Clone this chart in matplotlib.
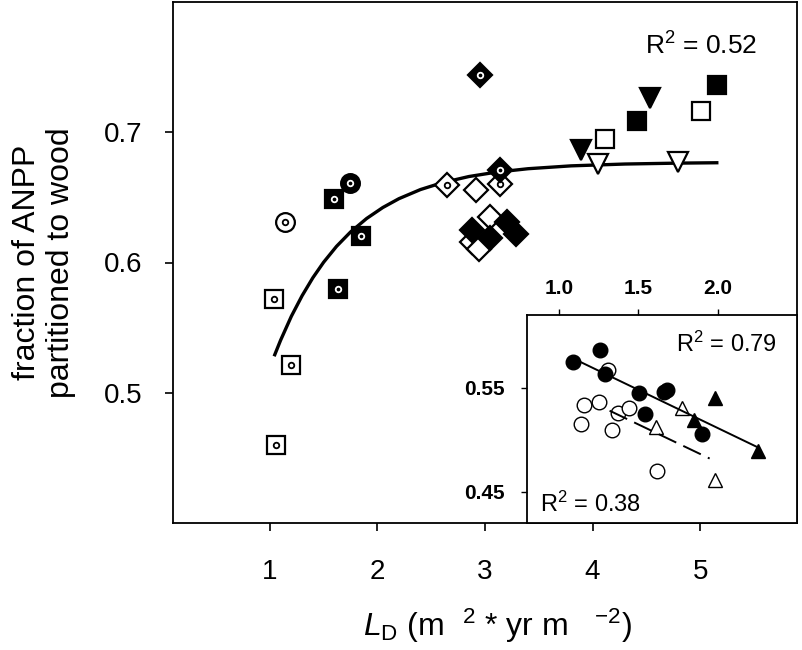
import matplotlib
matplotlib.use("Agg")
import matplotlib.pyplot as plt

plt.rcParams['font.family'] = ['Liberation Sans', 'DejaVu Sans']
plt.rcParams['mathtext.fontset'] = 'custom'
plt.rcParams['mathtext.rm'] = 'Liberation Sans'
plt.rcParams['mathtext.it'] = 'Liberation Sans:italic'
plt.rcParams['mathtext.bf'] = 'Liberation Sans:bold'

# ---- main panel data ----
sq_dot_open_x = [1.04, 1.20, 1.055]
sq_dot_open_y = [0.572, 0.521, 0.460]
sq_dot_filled_x = [1.60, 1.85, 1.63]
sq_dot_filled_y = [0.649, 0.620, 0.580]
circ_dot_open_x = [1.14]
circ_dot_open_y = [0.631]
circ_dot_filled_x = [1.745]
circ_dot_filled_y = [0.661]
diam_dot_open_x = [2.645, 3.14]
diam_dot_open_y = [0.6595, 0.660]
diam_dot_filled_x = [2.95, 3.14]
diam_dot_filled_y = [0.744, 0.671]
diam_open_x = [2.92, 3.05, 2.875, 2.94]
diam_open_y = [0.656, 0.635, 0.616, 0.610]
diam_filled_x = [2.875, 3.20, 3.29, 3.045]
diam_filled_y = [0.625, 0.631, 0.622, 0.619]
sq_open_x = [5.01, 4.12]
sq_open_y = [0.716, 0.695]
sq_filled_x = [5.16, 4.415]
sq_filled_y = [0.736, 0.709]
tri_open_x = [4.05, 4.79]
tri_open_y = [0.676, 0.677]
tri_filled_x = [4.53, 3.89]
tri_filled_y = [0.726, 0.686]

# saturating fit curve
curve_x = [1.04, 1.10, 1.20, 1.30, 1.40, 1.50, 1.62, 1.75, 1.90, 2.05, 2.20, 2.40,
           2.60, 2.85, 3.10, 3.40, 3.80, 4.30, 4.80, 5.17]
curve_y = [0.528, 0.5403, 0.5587, 0.5745, 0.5883, 0.6002, 0.6124, 0.6234, 0.6338,
           0.6422, 0.6490, 0.6560, 0.6612, 0.6660, 0.6693, 0.6720, 0.6742, 0.6756,
           0.6763, 0.6766]

# ---- inset data ----
in_circ_filled_x = [1.09, 1.257, 1.29, 1.505, 1.665, 1.68, 1.543, 1.90]
in_circ_filled_y = [0.575, 0.586, 0.563, 0.545, 0.546, 0.548, 0.525, 0.506]
in_circ_open_x = [1.31, 1.158, 1.253, 1.375, 1.442, 1.137, 1.333, 1.621]
in_circ_open_y = [0.567, 0.533, 0.536, 0.526, 0.531, 0.515, 0.509, 0.470]
in_tri_filled_x = [1.985, 1.853, 2.253]
in_tri_filled_y = [0.540, 0.519, 0.489]
in_tri_open_x = [1.779, 1.611, 1.985]
in_tri_open_y = [0.531, 0.512, 0.461]
fit_solid_x = [1.08, 2.25]
fit_solid_y = [0.579, 0.493]
fit_dash_x = [1.32, 1.95]
fit_dash_y = [0.528, 0.482]

fig = plt.figure(figsize=(8.03, 6.5), dpi=100)
ax = fig.add_axes([173 / 803, 127 / 650, 624 / 803, 521 / 650])

ax.plot(curve_x, curve_y, color='black', lw=2.4, zorder=2, solid_capstyle='butt')


def pts(a, x, y, marker, face, ms, dot=False, z=3):
    a.plot(x, y, ls='none', marker=marker, ms=ms, mfc=face, mec='black', mew=1.6, zorder=z)
    if dot:
        inner = 'white' if face == 'black' else 'black'
        a.plot(x, y, ls='none', marker='o', ms=4, mfc=face, mec=inner, mew=1.3, zorder=z + 0.1)


pts(ax, sq_dot_open_x, sq_dot_open_y, 's', 'white', 12.5, dot=True)
pts(ax, sq_dot_filled_x, sq_dot_filled_y, 's', 'black', 12.5, dot=True)
pts(ax, circ_dot_open_x, circ_dot_open_y, 'o', 'white', 13.5, dot=True)
pts(ax, circ_dot_filled_x, circ_dot_filled_y, 'o', 'black', 13.5, dot=True)
pts(ax, diam_open_x, diam_open_y, 'D', 'white', 12.5)
pts(ax, diam_filled_x, diam_filled_y, 'D', 'black', 12.5, z=3.5)
pts(ax, diam_dot_open_x, diam_dot_open_y, 'D', 'white', 12.5, dot=True)
pts(ax, diam_dot_filled_x, diam_dot_filled_y, 'D', 'black', 12.5, dot=True, z=4)
pts(ax, sq_open_x, sq_open_y, 's', 'white', 12.5)
pts(ax, sq_filled_x, sq_filled_y, 's', 'black', 12.5)
pts(ax, tri_open_x, tri_open_y, 'v', 'white', 14)
pts(ax, tri_filled_x, tri_filled_y, 'v', 'black', 14)

ax.set_xlim(0.1, 5.9)
ax.set_ylim(0.4, 0.8)
ax.set_xticks([1, 2, 3, 4, 5])
ax.set_yticks([0.5, 0.6, 0.7])
ax.set_yticklabels(['0.5', '0.6', '0.7'])
ax.tick_params(direction='out', length=6, width=1.2, labelsize=20, pad=16)
ax.tick_params(axis='x', pad=20)
for s in ax.spines.values():
    s.set_linewidth(1.3)

ax.set_ylabel('fraction of ANPP\npartitioned to wood', fontsize=23)
ax.yaxis.set_label_coords(-0.155, 0.5)
ax.set_xlabel(r'$\mathit{L}_{\mathrm{D}}$ (m  $^{2}$ * yr m   $^{-2}$)', fontsize=23)
ax.xaxis.set_label_coords(0.52, -0.16)

ax.text(0.936, 0.915, r'R$^{2}$ = 0.52', transform=ax.transAxes, fontsize=19,
        ha='right', va='center')

# ---- inset ----
ins = fig.add_axes([527 / 803, 127 / 650, 270 / 803, 208 / 650])
ins.plot(in_circ_open_x, in_circ_open_y, ls='none', marker='o', ms=10.5, mfc='white',
         mec='black', mew=1.0, zorder=2)
ins.plot(in_tri_open_x, in_tri_open_y, ls='none', marker='^', ms=10.5, mfc='white',
         mec='black', mew=1.0, zorder=2)
ins.plot(fit_solid_x, fit_solid_y, color='black', lw=1.4, zorder=3)
ins.plot(fit_dash_x, fit_dash_y, color='black', lw=1.4, dashes=(10, 4), zorder=3)
ins.plot(in_circ_filled_x, in_circ_filled_y, ls='none', marker='o', ms=10.5, mfc='black',
         mec='black', zorder=4)
ins.plot(in_tri_filled_x, in_tri_filled_y, ls='none', marker='^', ms=10.5, mfc='black',
         mec='black', zorder=4)

ins.set_xlim(0.8, 2.5)
ins.set_ylim(0.42, 0.62)
ins.set_xticks([1.0, 1.5, 2.0])
ins.set_xticklabels(['1.0', '1.5', '2.0'])
ins.set_yticks([0.45, 0.55])
ins.set_yticklabels(['0.45', '0.55'])
ins.xaxis.tick_top()
ins.tick_params(direction='out', length=4, width=1.0, labelsize=15, pad=8)
ins.tick_params(axis='y', pad=12)
for lab in ins.get_xticklabels() + ins.get_yticklabels():
    lab.set_fontweight('bold')
for s in ins.spines.values():
    s.set_linewidth(1.3)
ins.text(0.926, 0.86, r'R$^{2}$ = 0.79', transform=ins.transAxes, fontsize=17,
         ha='right', va='center')
ins.text(0.05, 0.09, r'R$^{2}$ = 0.38', transform=ins.transAxes, fontsize=17,
         ha='left', va='center')

fig.savefig('out.png', dpi=100)
